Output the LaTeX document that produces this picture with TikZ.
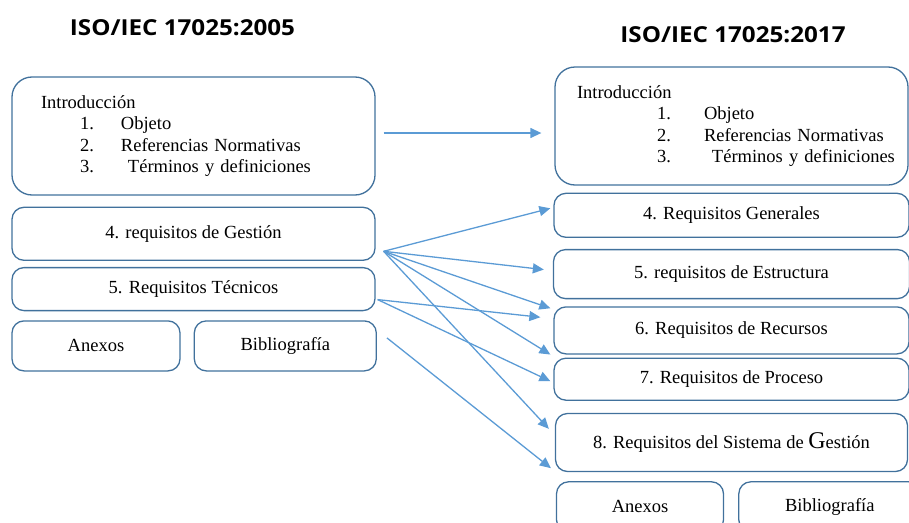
\documentclass[tikz,border=0pt]{standalone}
\usepackage{fontspec}
\setmainfont{Liberation Serif}
\newfontfamily\titlefont[FakeStretch=1.1]{Open Sans}
\usetikzlibrary{positioning,calc,arrows.meta}
\definecolor{boxline}{RGB}{65,113,156}
\definecolor{arrowblue}{RGB}{91,155,213}
\tikzset{
  reqbox/.style={draw=boxline, line width=1.3pt, rounded corners=12pt, inner sep=0pt, font=\fontsize{18.5}{21.5}\selectfont},
  introbox/.style={reqbox, rounded corners=20pt, minimum height=118pt, align=left},
  maplink/.style={draw=arrowblue, line width=1.3pt, -{Triangle[length=11pt,width=10pt]}},
  stdtitle/.style={font=\titlefont\bfseries\fontsize{22}{22}\selectfont, anchor=base}
}
\begin{document}
\begin{tikzpicture}[x=1pt,y=-1pt]
		\useasboundingbox (0,0) rectangle (909,522);
		\clip (0,0) rectangle (909,522);
		% titles
		\node[stdtitle] (titleOld) at (182.5,35) {ISO/IEC 17025:2005};
		\node[stdtitle] (titleNew) at (733,42) {ISO/IEC 17025:2017};
		
		% 2005 column
		\node[introbox, text width=305pt, inner xsep=29pt] (introOld) at (193.5,136) {Introducción\\
			\mbox{\hspace*{39pt}\makebox[41pt][l]{1.}Objeto}\\
			\mbox{\hspace*{39pt}\makebox[41pt][l]{2.}Referencias Normativas}\\
			\mbox{\hspace*{39pt}\makebox[41pt][l]{3.}\hspace{7pt}Términos y definiciones}};
		\node[reqbox, minimum width=363pt, minimum height=53pt, below=11pt of introOld] (gestOld) {4. requisitos de Gestión};
		\node[reqbox, minimum width=363pt, minimum height=43pt, below=6pt of gestOld] (tecOld) {5. Requisitos Técnicos};
		\node[reqbox, minimum width=168pt, minimum height=50pt, below right=9pt and 0pt of tecOld.south west] (anexOld) {Anexos};
		\node[reqbox, minimum width=182pt, minimum height=50pt, right=13pt of anexOld] (bibOld) {Bibliografía};
		
		% 2017 column
		\node[introbox, text width=309pt, inner xsep=22pt] (introNew) at (731.5,126) {Introducción\\
			\mbox{\hspace*{80pt}\makebox[47pt][l]{1.}Objeto}\\
			\mbox{\hspace*{80pt}\makebox[47pt][l]{2.}Referencias Normativas}\\
			\mbox{\hspace*{80pt}\makebox[47pt][l]{3.}\hspace{8pt}Términos y definiciones}};
		\node[reqbox, minimum width=355pt, minimum height=44pt, below=7pt of introNew] (genNew) {4. Requisitos Generales};
		\node[reqbox, minimum width=356pt, minimum height=49pt, below=11pt of genNew] (estNew) {5. requisitos de Estructura};
		\node[reqbox, minimum width=355pt, minimum height=47pt, below=7pt of estNew] (recNew) {6. Requisitos de Recursos};
		\node[reqbox, minimum width=355pt, minimum height=42pt, below=3pt of recNew] (proNew) {7. Requisitos de Proceso};
		\node[reqbox, minimum width=352pt, minimum height=58pt, below=12pt of proNew] (sisNew) {8. Requisitos del Sistema de {\fontsize{24}{24}\selectfont G}estión};
		\node[reqbox, minimum width=167pt, minimum height=50pt, below right=9pt and 1pt of sisNew.south west] (anexNew) {Anexos};
		\node[reqbox, minimum width=182pt, minimum height=50pt, right=14pt of anexNew] (bibNew) {Bibliografía};
		
		% arrow ends
		\coordinate (introSrc) at ($(introOld.east)+(8,-3)$);
		\coordinate (gestSrc) at ($(gestOld.east)+(8,17.5)$);
		\coordinate (tecSrc) at ($(tecOld.east)+(2,10.5)$);
		\coordinate (bibSrc) at ($(bibOld.east)+(10,-8)$);
		\coordinate (introTip) at ($(introNew.west)+(-13,7)$);
		\coordinate (genTip) at ($(genNew.west)+(-3,-7)$);
		\coordinate (estTip) at ($(estNew.west)+(-9,-4.5)$);
		\coordinate (recTipA) at ($(recNew.north west)+(-3,2)$);
		\coordinate (recTipB) at ($(recNew.north west)+(-13,11)$);
		\coordinate (proTipA) at ($(proNew.north west)+(-3,-3)$);
		\coordinate (proTipB) at ($(proNew.west)+(-3,2)$);
		\coordinate (sisTipA) at ($(sisNew.north west)+(-6,16)$);
		\coordinate (sisTipB) at ($(sisNew.south west)+(-4,-4)$);
		
		\draw[maplink] (introSrc) -- (introTip);
		\draw[maplink] (gestSrc) -- (genTip);
		\draw[maplink] (gestSrc) -- (estTip);
		\draw[maplink] (gestSrc) -- (recTipA);
		\draw[maplink] (gestSrc) -- (proTipA);
		\draw[maplink] (gestSrc) -- (sisTipA);
		\draw[maplink] (tecSrc) -- (recTipB);
		\draw[maplink] (tecSrc) -- (proTipB);
		\draw[maplink] (bibSrc) -- (sisTipB);
	\end{tikzpicture}
\end{document}
